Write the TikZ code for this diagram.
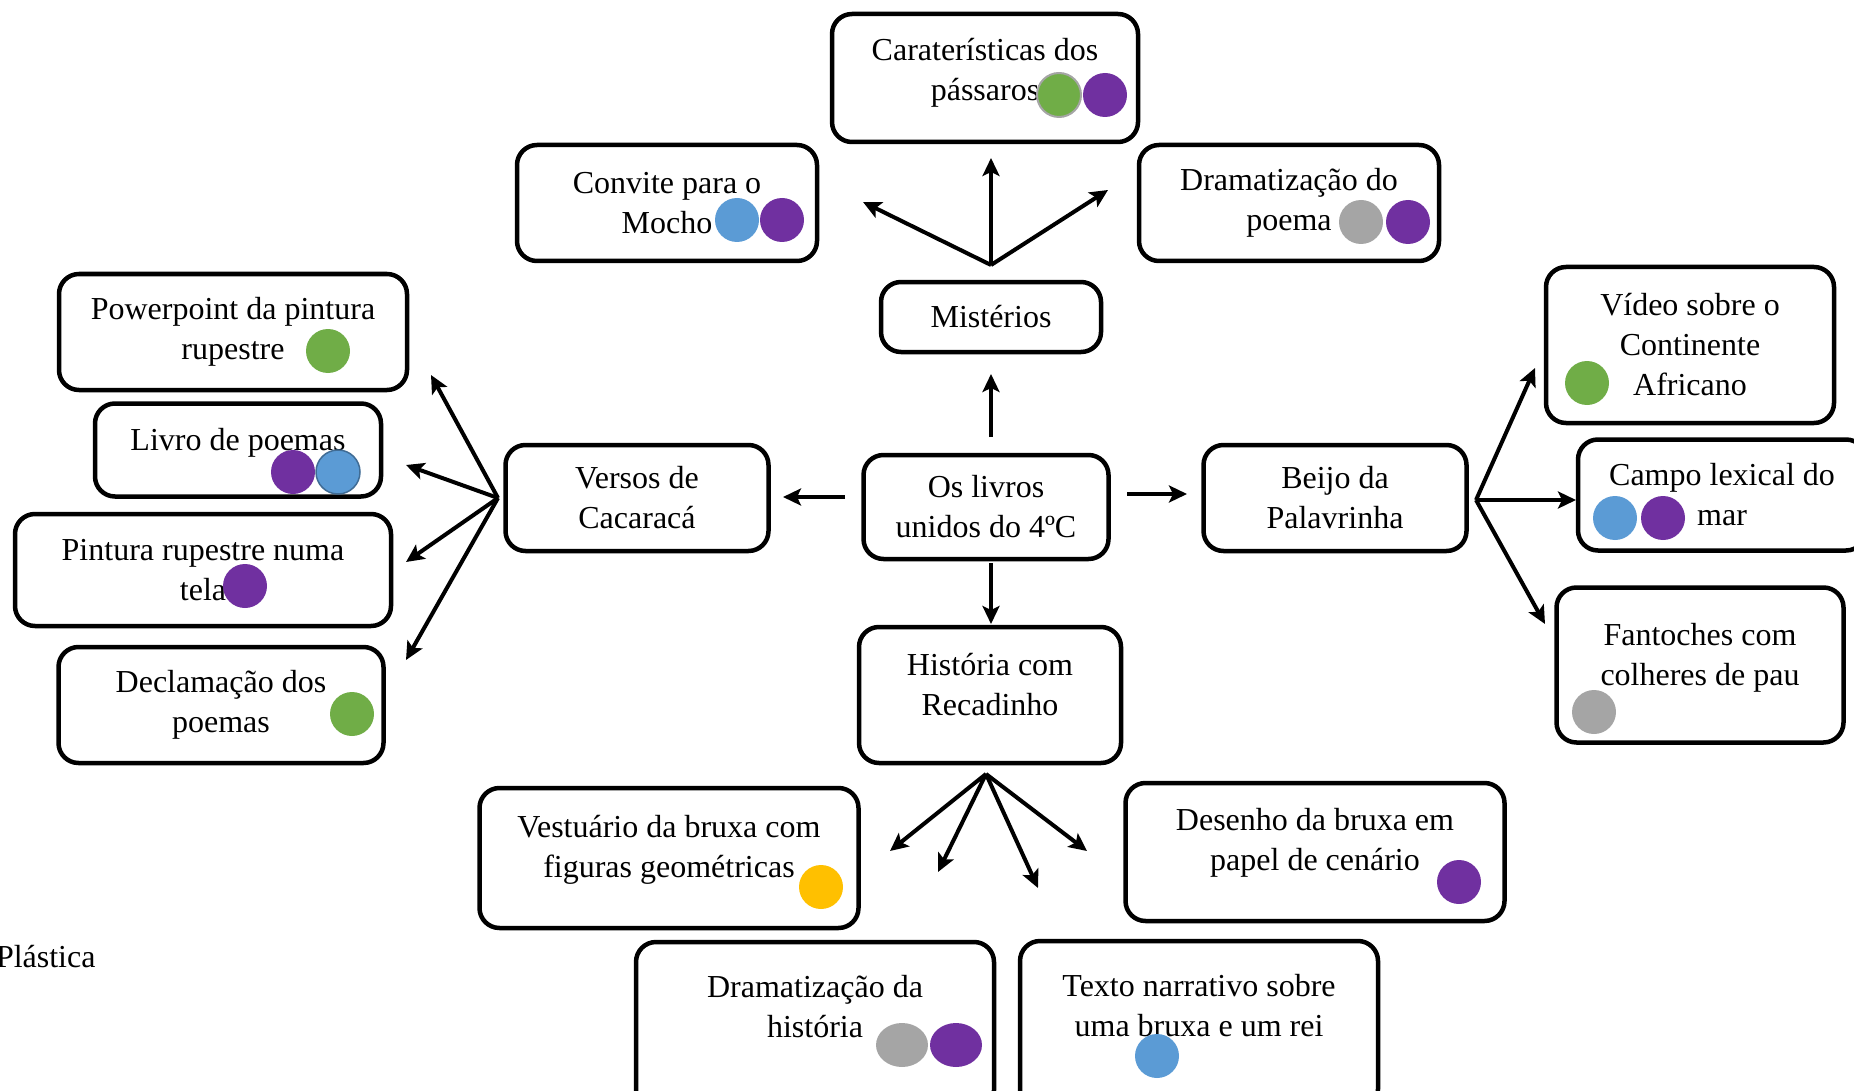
\documentclass[tikz,border=0pt]{standalone}
\usepackage{fontspec}
\setmainfont{Liberation Serif}
\usetikzlibrary{positioning, arrows.meta, shapes.geometric}

\definecolor{dgreen}{HTML}{70AD47}
\definecolor{dpurple}{HTML}{7030A0}
\definecolor{dblue}{HTML}{5B9BD5}
\definecolor{dgrey}{HTML}{A5A5A5}
\definecolor{dyellow}{HTML}{FFC000}

\begin{document}
\begin{tikzpicture}[x=1pt, y=-1pt, ->, >={Stealth[length=18pt, width=17pt, inset=4pt]}, line width=4pt,
        box/.style={draw, rounded corners=20pt, line width=4.5pt, align=center, inner sep=0pt,
            font=\fontsize{32}{40}\selectfont},
        dot/.style={circle, fill=#1, draw=none, minimum size=44pt, inner sep=0pt},
        edot/.style={ellipse, fill=#1, draw=none, minimum width=52pt, minimum height=44pt, inner sep=0pt}]
        \useasboundingbox (0,0) rectangle (1854,1091);

        % boxes
        \node (Carat) [box, minimum width=306pt, minimum height=128pt] at (985,78) {Caraterísticas dos\\pássaros\\[-22pt]\mbox{}};
        \node (Convite) [box, minimum width=300pt, minimum height=116pt] at (667,203) {Convite para o\\Mocho};
        \node (DramP) [box, minimum width=300pt, minimum height=116pt] at (1289,203) {Dramatização do\\poema};
        \node (Mist) [box, minimum width=220pt, minimum height=70pt] at (991,317) {Mistérios};
        \node (Power) [box, minimum width=348pt, minimum height=116pt] at (233,332) {Powerpoint da pintura\\rupestre};
        \node (Livro) [box, minimum width=286pt, minimum height=93pt] at (238,450) {Livro de poemas\\[-18pt]\mbox{}};
        \node (Tela) [box, minimum width=376pt, minimum height=112pt] at (203,570) {Pintura rupestre numa\\tela};
        \node (Decl) [box, minimum width=325pt, minimum height=116pt] at (221,705) {Declamação dos\\poemas};
        \node (Versos) [box, minimum width=263pt, minimum height=106pt] at (637,498) {Versos de\\Cacaracá};
        \node (Livros) [box, minimum width=245pt, minimum height=104pt] at (986,507) {Os livros\\unidos do 4ºC};
        \node (Beijo) [box, minimum width=263pt, minimum height=106pt] at (1335,498) {Beijo da\\Palavrinha};
        \node (Video) [box, minimum width=288pt, minimum height=156pt] at (1690,345) {Vídeo sobre o\\Continente\\Africano};
        \node (Campo) [box, minimum width=288pt, minimum height=111pt] at (1722,495) {Campo lexical do\\mar};
        \node (Fant) [box, minimum width=287pt, minimum height=155pt] at (1700,665) {Fantoches com\\colheres de pau\\[-18pt]\mbox{}};
        \node (Hist) [box, minimum width=262pt, minimum height=136pt] at (990,695) {História com\\Recadinho\\[-18pt]\mbox{}};
        \node (Vest) [box, minimum width=379pt, minimum height=140pt] at (669,858) {Vestuário da bruxa com\\figuras geométricas\\[-16pt]\mbox{}};
        \node (Desenho) [box, minimum width=379pt, minimum height=138pt] at (1315,852) {Desenho da bruxa em\\papel de cenário\\[-14pt]\mbox{}};
        \node (DramH) [box, minimum width=358pt, minimum height=168pt] at (815,1026) {Dramatização da\\história\\ \mbox{}};
        \node (Texto) [box, minimum width=358pt, minimum height=168pt] at (1199,1025) {Texto narrativo sobre\\uma bruxa e um rei\\ \mbox{}};
        \node (Plast) [anchor=base west, inner sep=0pt, font=\fontsize{32}{40}\selectfont] at (-6,967) {Plástica};

        % dots
        \node (caratG) [dot=dgreen, draw=dgrey, line width=2pt] at (1059,95) {};
        \node (caratP) [dot=dpurple] at (1105,95) {};
        \node (conviteB) [dot=dblue] at (737,220) {};
        \node (conviteP) [dot=dpurple] at (782,220) {};
        \node (drampG) [dot=dgrey] at (1361,222) {};
        \node (drampP) [dot=dpurple] at (1408,222) {};
        \node (powerG) [dot=dgreen] at (328,351) {};
        \node (livroP) [dot=dpurple] at (293,472) {};
        \node (livroB) [dot=dblue, draw=dblue!70!black, line width=1.5pt] at (338,472) {};
        \node (telaP) [dot=dpurple] at (245,586) {};
        \node (declG) [dot=dgreen] at (352,714) {};
        \node (videoG) [dot=dgreen] at (1587,383) {};
        \node (campoB) [dot=dblue] at (1615,518) {};
        \node (campoP) [dot=dpurple] at (1663,518) {};
        \node (fantG) [dot=dgrey] at (1594,712) {};
        \node (vestY) [dot=dyellow] at (821,887) {};
        \node (desenhoP) [dot=dpurple] at (1459,882) {};
        \node (dramhG) [edot=dgrey] at (902,1045) {};
        \node (dramhP) [edot=dpurple] at (956,1045) {};
        \node (textoB) [dot=dblue] at (1157,1056) {};

        % arrow ends
        \coordinate (cUa) at (991,437);  \coordinate (cUb) at (991,374);
        \coordinate (cLa) at (845,497);  \coordinate (cLb) at (783,497);
        \coordinate (cRa) at (1127,494); \coordinate (cRb) at (1187,494);
        \coordinate (cDa) at (991,563);  \coordinate (cDb) at (991,624);
        \coordinate (mO) at (991,265);
        \coordinate (m1) at (863,202); \coordinate (m2) at (991,158); \coordinate (m3) at (1108,190);
        \coordinate (vO) at (498,498);
        \coordinate (v1) at (431,375); \coordinate (v2) at (406,465);
        \coordinate (v3) at (406,562); \coordinate (v4) at (406,660);
        \coordinate (bO) at (1476,500);
        \coordinate (b1) at (1535,368); \coordinate (b2) at (1576,500); \coordinate (b3) at (1545,624);
        \coordinate (hO) at (986,774);
        \coordinate (h1) at (890,851); \coordinate (h2) at (938,872);
        \coordinate (h3) at (1038,888); \coordinate (h4) at (1087,851);

        \path
            (cUa) edge (cUb)
            (cLa) edge (cLb)
            (cRa) edge (cRb)
            (cDa) edge (cDb)
            (mO) edge (m1) (mO) edge (m2) (mO) edge (m3)
            (vO) edge (v1) (vO) edge (v2) (vO) edge (v3) (vO) edge (v4)
            (bO) edge (b1) (bO) edge (b2) (bO) edge (b3)
            (hO) edge (h1) (hO) edge (h2) (hO) edge (h3) (hO) edge (h4);
    \end{tikzpicture}
\end{document}
